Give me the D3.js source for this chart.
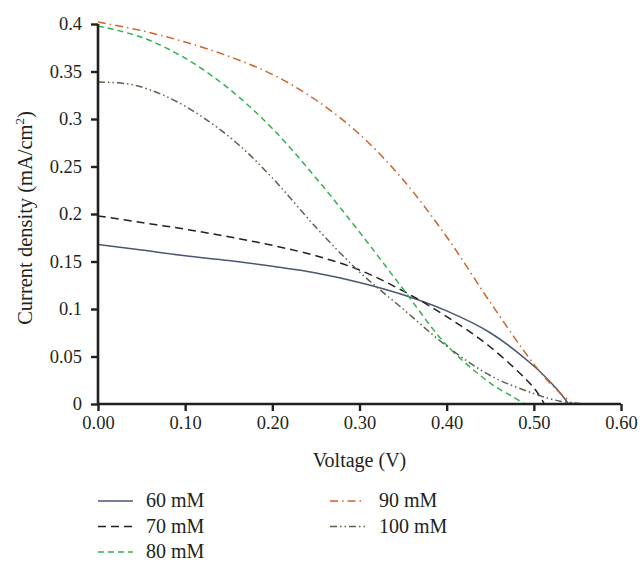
<!DOCTYPE html>
<html>
<head>
<meta charset="utf-8">
<script src="https://cdn.jsdelivr.net/npm/d3@7"></script>
<style>
  body { margin: 0; background: #fff; }
  svg { display: block; font-family: "Liberation Serif", "DejaVu Serif", serif; fill: #231f20; }
</style>
</head>
<body>
<svg id="chart" width="640" height="562"></svg>
<script>
// series data: voltage (V) and current density (mA/cm2)
const names = ["60 mM", "70 mM", "80 mM", "90 mM", "100 mM"]

const v60 = [0, 0.05, 0.1, 0.15, 0.2, 0.25, 0.3, 0.35, 0.4, 0.45, 0.5, 0.525, 0.54]
const j60 = [0.168, 0.162, 0.156, 0.151, 0.145, 0.138, 0.128, 0.115, 0.098, 0.075, 0.040, 0.017, 0]

const v70 = [0, 0.05, 0.1, 0.15, 0.2, 0.25, 0.3, 0.35, 0.4, 0.45, 0.5, 0.512]
const j70 = [0.198, 0.191, 0.184, 0.176, 0.167, 0.156, 0.141, 0.119, 0.092, 0.060, 0.017, 0]

const v80 = [0, 0.05, 0.1, 0.15, 0.2, 0.25, 0.3, 0.35, 0.4, 0.45, 0.475, 0.49]
const j80 = [0.398, 0.386, 0.364, 0.332, 0.290, 0.238, 0.181, 0.121, 0.062, 0.022, 0.008, 0]

const v90 = [0, 0.05, 0.1, 0.15, 0.2, 0.25, 0.3, 0.35, 0.4, 0.45, 0.5, 0.525, 0.545]
const j90 = [0.402, 0.393, 0.381, 0.366, 0.347, 0.320, 0.284, 0.236, 0.176, 0.107, 0.042, 0.016, 0]

const v100 = [0, 0.04, 0.08, 0.12, 0.16, 0.2, 0.25, 0.3, 0.35, 0.4, 0.45, 0.5, 0.53, 0.56]
const j100 = [0.339, 0.336, 0.323, 0.302, 0.274, 0.238, 0.186, 0.139, 0.100, 0.061, 0.030, 0.011, 0.003, 0]

const xTicks = [0, 0.1, 0.2, 0.3, 0.4, 0.5, 0.6]
const yTicks = [0, 0.05, 0.1, 0.15, 0.2, 0.25, 0.3, 0.35, 0.4]

const colors = ["#4a5672", "#231f20", "#2fb24c", "#d0622b", "#59634a"]
const dashes = [null, "8,5", "6,4", "8,4,1.5,4", "7,3,1.5,3,1.5,3"]

const series = [[v60, j60], [v70, j70], [v80, j80], [v90, j90], [v100, j100]]
    .map((s, i) => ({ name: names[i], pts: s[0].map((v, k) => ({ v: v, j: s[1][k] })) }))

const svg = d3.select("#chart")
const margin = { top: 24, right: 19, bottom: 158, left: 98 }
const width = 640 - margin.left - margin.right
const height = 562 - margin.top - margin.bottom

const g = svg.append("g")
    .attr("transform", "translate(" + margin.left + "," + margin.top + ")")

const x = d3.scaleLinear().domain([0, 0.6]).range([0, width])
const y = d3.scaleLinear().domain([0, 0.4]).range([height, 0])

//lines
const line = d3.line()
    .x(d => x(d.v))
    .y(d => y(d.j))
    .curve(d3.curveCatmullRom.alpha(0.5))

g.selectAll(".series")
    .data(series)
    .enter().append("path")
    .attr("class", "series")
    .attr("fill", "none")
    .attr("stroke", (d, i) => colors[i])
    .attr("stroke-width", 1.5)
    .attr("stroke-dasharray", (d, i) => dashes[i])
    .attr("d", d => line(d.pts))

//axes
const xAxis = g.append("g")
    .attr("transform", "translate(0," + height + ")")
    .call(d3.axisBottom(x).tickValues(xTicks).tickFormat(d3.format(".2f")).tickSize(7).tickPadding(5))
const yAxis = g.append("g")
    .call(d3.axisLeft(y).tickValues(yTicks).tickFormat(d => d === 0 ? "0" : String(+d.toFixed(2))).tickSize(7).tickPadding(9))

;[xAxis, yAxis].forEach(a => {
    a.select(".domain").attr("stroke", "#231f20").attr("stroke-width", 2.6)
    a.selectAll(".tick line").attr("stroke", "#231f20").attr("stroke-width", 2.4)
    a.selectAll(".tick text")
        .attr("fill", "#231f20")
        .style("font-family", "Liberation Serif")
        .style("font-size", "18.5px")
})
xAxis.select(".domain").attr("d", "M0,0H" + width)
yAxis.select(".domain").attr("d", "M0,0V" + height)

//axis titles
g.append("text")
    .attr("x", x(0.3))
    .attr("y", height + 63)
    .attr("text-anchor", "middle")
    .style("font-size", "20px")
    .text("Voltage (V)")

const yt = g.append("text")
    .attr("transform", "translate(" + (-66) + "," + (height / 2 + 4) + ") rotate(-90)")
    .attr("text-anchor", "middle")
    .style("font-size", "20.5px")
yt.append("tspan").text("Current density (mA/cm")
yt.append("tspan").attr("dy", -8).style("font-size", "13px").text("2")
yt.append("tspan").attr("dy", 8).text(")")

//legend
const legend = svg.append("g")
const item = legend.selectAll(".item")
    .data(series)
    .enter().append("g")
    .attr("class", "item")
    .attr("transform", (d, i) => "translate(" + (i < 3 ? 98 : 330) + "," + (501 + (i % 3) * 25.5) + ")")

item.append("line")
    .attr("x1", 0).attr("x2", 35)
    .attr("stroke", (d, i) => colors[i])
    .attr("stroke-width", 1.6)
    .attr("stroke-dasharray", (d, i) => dashes[i])

item.append("text")
    .attr("x", (d, i) => i < 3 ? 48 : 49)
    .attr("y", 6)
    .style("font-size", "20px")
    .text(d => d.name)
</script>
</body>
</html>
